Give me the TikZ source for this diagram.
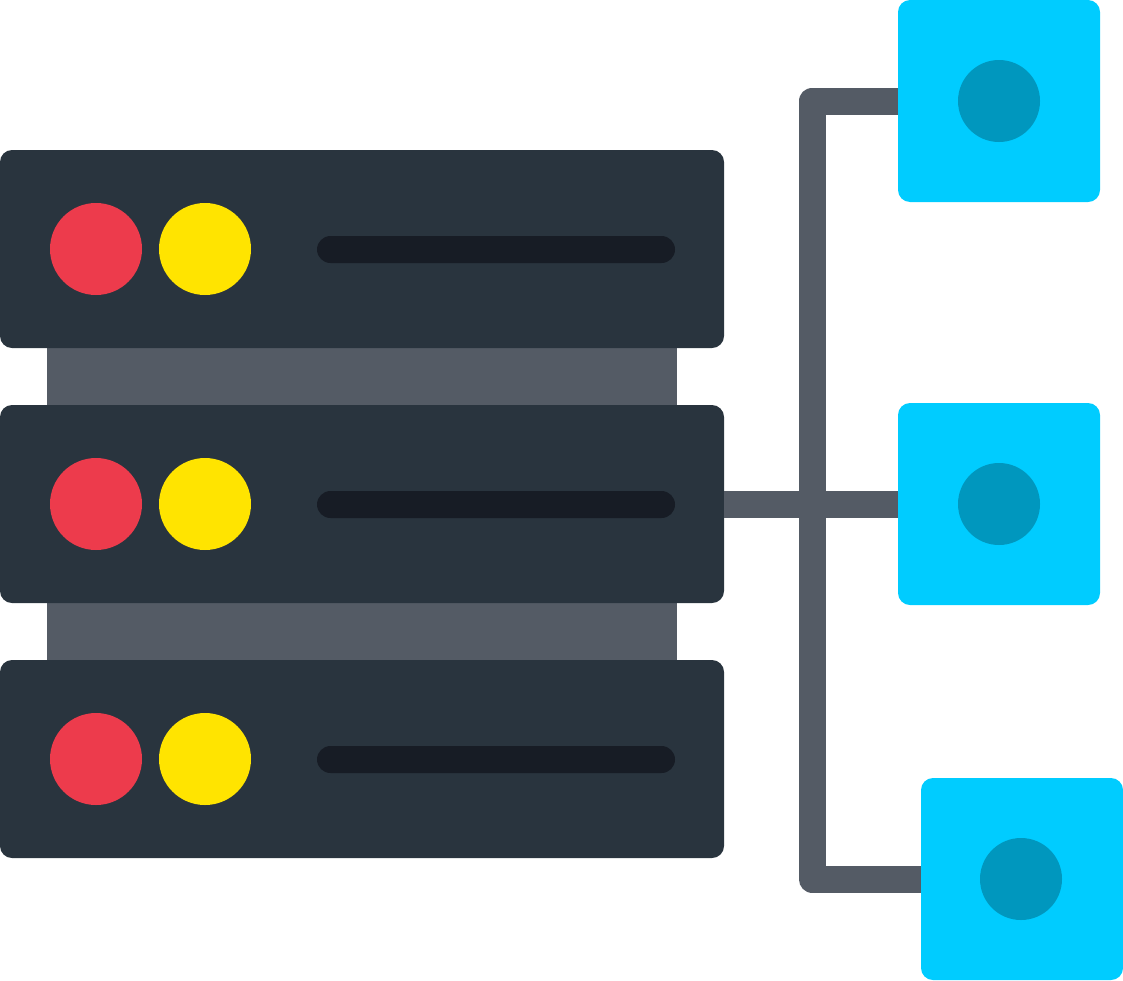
\documentclass[tikz,border=0pt]{standalone}
\usetikzlibrary{positioning,calc}
\definecolor{srvcol}{HTML}{29343E}
\definecolor{linkcol}{HTML}{545B65}
\definecolor{slotcol}{HTML}{171C25}
\definecolor{redcol}{HTML}{ED3B4C}
\definecolor{yelcol}{HTML}{FFE400}
\definecolor{hubcol}{HTML}{00CCFF}
\definecolor{dotcol}{HTML}{0097BE}
\begin{document}
\begin{tikzpicture}
[x=1pt,y=-1pt,
srv/.style={fill=srvcol,rounded corners=12pt,minimum width=724pt,minimum height=198pt,inner sep=0pt,outer sep=0pt},
rack/.style={fill=linkcol,minimum width=630pt,minimum height=57pt,inner sep=0pt,outer sep=0pt},
led/.style={circle,minimum size=92pt,inner sep=0pt,outer sep=0pt},
slot/.style={fill=slotcol,rounded corners=13.5pt,minimum width=358pt,minimum height=27pt,inner sep=0pt,outer sep=0pt},
hub/.style={fill=hubcol,rounded corners=12pt,minimum size=202pt,inner sep=0pt,outer sep=0pt},
dot/.style={circle,fill=dotcol,minimum size=82pt,inner sep=0pt,outer sep=0pt},
link/.style={draw=linkcol,line width=27pt,line join=round}]
\useasboundingbox (0,0) rectangle (1123,980);
%%
%%%%%%%%%%%%%%%%%%
% Servers
%%%%%%%%%%%%%%%%%%
\node[rack] (rackA) at (362,376.5) {};
\node[rack] (rackB) at (362,631.5) {};
\node[srv] (srvA) at (362,249) {};
\node[srv] (srvB) at (362,504) {};
\node[srv] (srvC) at (362,759) {};
%% lights and slots
\node[led,fill=redcol] (redA) at (96,249) {};
\node[led,fill=yelcol] (yelA) at (205,249) {};
\node[slot] (slotA) at (496,249.5) {};
\node[led,fill=redcol] (redB) at (96,504) {};
\node[led,fill=yelcol] (yelB) at (205,504) {};
\node[slot] (slotB) at (496,504.5) {};
\node[led,fill=redcol] (redC) at (96,759) {};
\node[led,fill=yelcol] (yelC) at (205,759) {};
\node[slot] (slotC) at (496,759.5) {};
%%
%%%%%%%%%%%%%%%%%%
% Hubs
%%%%%%%%%%%%%%%%%%
\node[hub] (hubA) at (999,101) {};
\node[dot] (dotA) at (999,101) {};
\node[hub] (hubB) at (999,504) {};
\node[dot] (dotB) at (999,504) {};
\node[hub] (hubC) at (1022,879) {};
\node[dot] (dotC) at (1021,879) {};
%%
%%%%%%%%%%%%%%%%%%
% Links
%%%%%%%%%%%%%%%%%%
\coordinate (trunk) at (812,504);
\draw[link] (srvB.east) -- (hubB.west);
\draw[link] (hubA.west) -- (hubA -| trunk) -- (hubC -| trunk) -- (hubC.west);
\end{tikzpicture}
\end{document}
